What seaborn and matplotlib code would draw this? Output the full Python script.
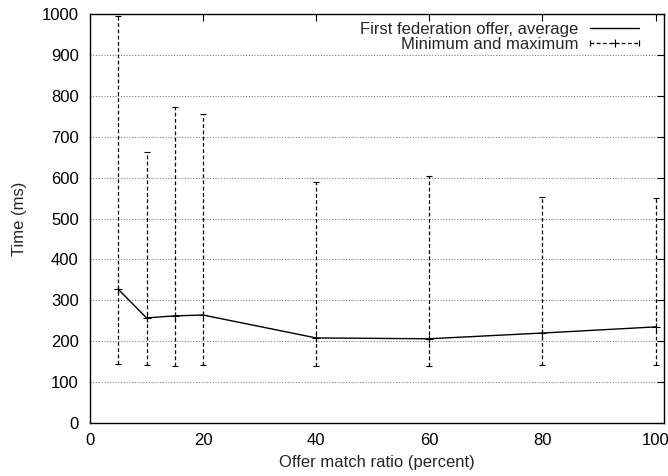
import matplotlib
matplotlib.use("Agg")
import matplotlib.pyplot as plt
from matplotlib.lines import Line2D
from matplotlib.legend_handler import HandlerLine2D, HandlerTuple
import seaborn as sns
import numpy as np
import pandas as pd

# values
match_ratio = [5, 10, 15, 20, 40, 60, 80, 100]
avg_time = [327, 257, 262, 264, 208, 206, 220, 235]
min_time = [144, 141, 140, 143, 139, 140, 141, 141]
max_time = [995, 663, 773, 755, 589, 604, 553, 549]

df = pd.DataFrame({'ratio': match_ratio, 'avg': avg_time, 'min': min_time, 'max': max_time})

sns.set_style("white")
plt.rcParams['font.family'] = ['Liberation Sans', 'DejaVu Sans']
FS = 12

fig = plt.figure(figsize=(6.68, 4.76), dpi=100)
ax = fig.add_axes([0.1347, 0.1113, 0.994 - 0.1347, 0.9706 - 0.1113])

sns.lineplot(data=df, x='ratio', y='avg', ax=ax, color='black', linewidth=1.0, legend=False)

dash = (0, (3, 2))
yerr = np.array([df['avg'] - df['min'], df['max'] - df['avg']])
eb = ax.errorbar(df['ratio'], df['avg'], yerr=yerr, fmt='+', color='black',
                 markersize=6, markeredgewidth=0.8, ecolor='black', elinewidth=0.9,
                 capsize=2.5, capthick=0.9)
for line in eb[2]:
    line.set_linestyle(dash)

ax.set_xlim(0, 101.5)
ax.set_ylim(0, 1000)
ax.set_xticks([0, 20, 40, 60, 80, 100])
ax.set_yticks(range(0, 1001, 100))
ax.tick_params(direction='in', top=True, right=True, length=5, width=0.8,
               labelsize=FS, colors='black')
ax.tick_params(axis='y', pad=8)
ax.tick_params(axis='x', pad=7.5)
for yv in range(100, 1000, 100):
    ax.axhline(yv, color='#808080', linestyle=(0, (1, 1.5)), linewidth=0.8, zorder=0)
for s in ax.spines.values():
    s.set_color('black')
    s.set_linewidth(1.0)

ax.set_xlabel('Offer match ratio (percent)', fontsize=FS, labelpad=5)
ax.set_ylabel('Time (ms)', fontsize=FS, labelpad=10.5)

# legend handles in the gnuplot style
h_avg = Line2D([], [], color='black', linewidth=1.0)
h_bar = Line2D([], [], color='black', linewidth=0.9, linestyle=dash,
               marker='+', markersize=6, markeredgewidth=0.8)
h_caps = Line2D([], [], color='black', linestyle='none', marker='|',
                markersize=4, markeredgewidth=0.9)
ax.legend([h_avg, (h_bar, h_caps)],
          ['First federation offer, average', 'Minimum and maximum'],
          handler_map={h_bar: HandlerLine2D(numpoints=1),
                       h_caps: HandlerLine2D(numpoints=2, marker_pad=0),
                       tuple: HandlerTuple(ndivide=1, pad=0)},
          loc='upper right', bbox_to_anchor=(0.977, 1.01), frameon=False,
          markerfirst=False, fontsize=FS, handlelength=2.94, borderaxespad=0.3,
          labelspacing=0.0, handletextpad=0.72)

fig.savefig('out.png', dpi=100)
